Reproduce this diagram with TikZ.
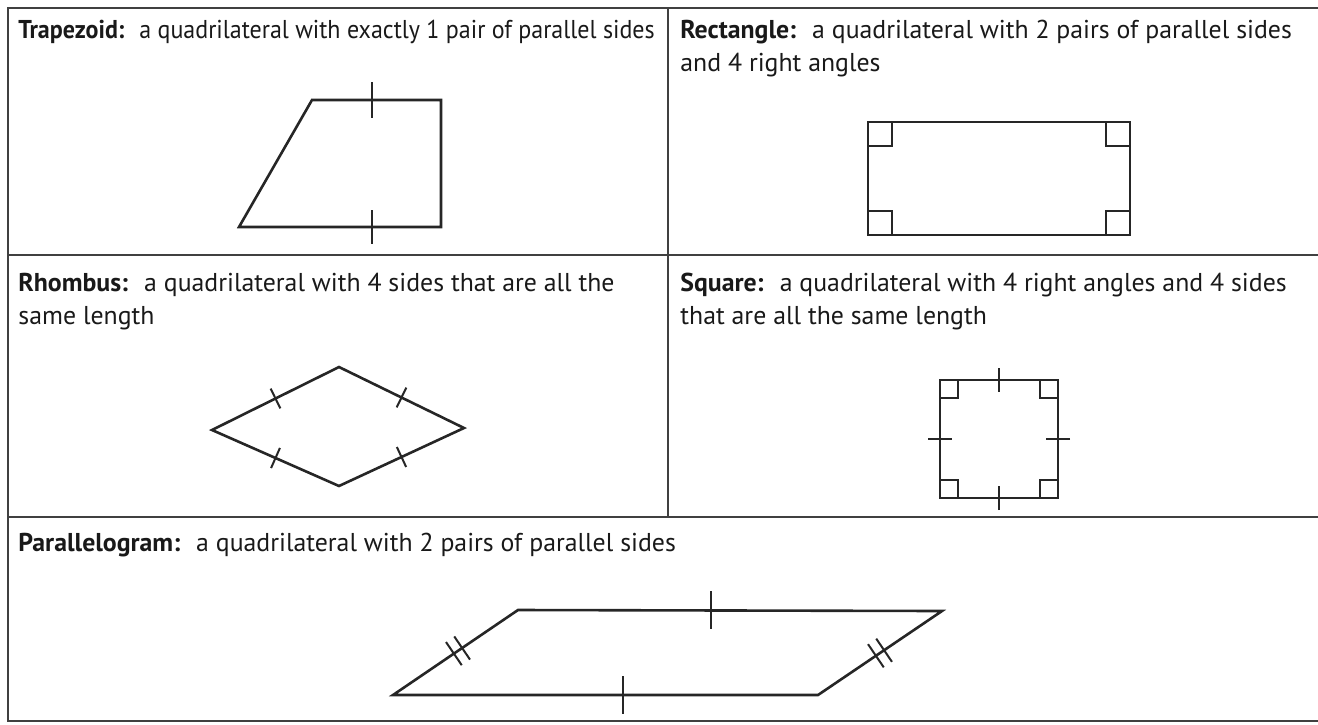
\documentclass[tikz,border=0pt]{standalone}
\usepackage{fontspec}
\setmainfont{PT Sans}
\usetikzlibrary{calc}

\begin{document}
\begin{tikzpicture}[
			x=0.5pt, y=-0.5pt,
			% Styles du tableau
			gridLine/.style={draw=black!75, line width=1pt},
			cellText/.style={anchor=base west, align=left, inner sep=0pt, text=black!90, font=\fontsize{12.9}{16.5}\selectfont},
			% Styles des figures
			shapeLine/.style={draw=black!85, line width=1.3pt, line join=miter},
			tickLine/.style={draw=black!85, line width=1pt},
			rightMark/.style={draw=black!85, line width=1.1pt},
			]

			\useasboundingbox (0,0) rectangle (1318,724);

			% tableau
			\draw[gridLine] (1318,8) -- (8,8) -- (8,721) -- (1318,721);
			\draw[gridLine] (8,255) -- (1318,255);
			\draw[gridLine] (8,517) -- (1318,517);
			\draw[gridLine] (668,8) -- (668,517);


			% textes (base west = ligne de base de la derniere ligne)
			\node[cellText] (trapText) at (18,38) {\scalebox{0.93}[1]{\textbf{Trapezoid:}~ a quadrilateral with exactly 1 pair of parallel sides}};
			\node[cellText] (rectText) at (680,71) {\textbf{Rectangle:}~ a quadrilateral with 2 pairs of parallel sides\\and 4 right angles};
			\node[cellText] (rhomText) at (18,324) {\textbf{Rhombus:}~ a quadrilateral with 4 sides that are all the\\same length};
			\node[cellText] (sqText) at (680,324) {\textbf{Square:}~ a quadrilateral with 4 right angles and 4 sides\\that are all the same length};
			\node[cellText] (paraText) at (18,551) {\textbf{Parallelogram:}~ a quadrilateral with 2 pairs of parallel sides};


			% trapeze
			\coordinate (t1) at (312,100);
			\coordinate (t2) at (441,100);
			\coordinate (t3) at (441,227);
			\coordinate (t4) at (239,227);
			\draw[shapeLine] (t1) -- (t2) -- (t3) -- (t4) -- cycle;
			\draw[tickLine] ($(t1)!0.465!(t2)+(0,-18)$) -- ($(t1)!0.465!(t2)+(0,18)$);
			\draw[tickLine] ($(t4)!0.66!(t3)+(0,-17)$) -- ($(t4)!0.66!(t3)+(0,17)$);


			% rectangle
			\coordinate (r1) at (868,122);
			\coordinate (r2) at (1130,122);
			\coordinate (r3) at (1130,235);
			\coordinate (r4) at (868,235);
			\draw[shapeLine] (r1) -- (r2) -- (r3) -- (r4) -- cycle;
			\draw[rightMark] ($(r1)+(0,24)$) -- ++(24,0) -- ++(0,-24);
			\draw[rightMark] ($(r2)+(-24,0)$) -- ++(0,24) -- ++(24,0);
			\draw[rightMark] ($(r3)+(-24,0)$) -- ++(0,-24) -- ++(24,0);
			\draw[rightMark] ($(r4)+(24,0)$) -- ++(0,-24) -- ++(-24,0);


			% losange
			\coordinate (h1) at (212,430);
			\coordinate (h2) at (339,367);
			\coordinate (h3) at (464,428);
			\coordinate (h4) at (339,486);
			\draw[shapeLine] (h1) -- (h2) -- (h3) -- (h4) -- cycle;
			\foreach \a/\b in {h1/h2, h2/h3, h3/h4, h4/h1}
				\draw[tickLine] ($(\a)!0.5!(\b)!5.5pt!90:(\b)$) -- ($(\a)!0.5!(\b)!5.5pt!-90:(\b)$);


			% carre
			\coordinate (s1) at (940,380);
			\coordinate (s2) at (1058,380);
			\coordinate (s3) at (1058,498);
			\coordinate (s4) at (940,498);
			\draw[shapeLine] (s1) -- (s2) -- (s3) -- (s4) -- cycle;
			\draw[rightMark] ($(s1)+(0,18)$) -- ++(18,0) -- ++(0,-18);
			\draw[rightMark] ($(s2)+(-18,0)$) -- ++(0,18) -- ++(18,0);
			\draw[rightMark] ($(s3)+(-18,0)$) -- ++(0,-18) -- ++(18,0);
			\draw[rightMark] ($(s4)+(18,0)$) -- ++(0,-18) -- ++(-18,0);
			\foreach \a/\b in {s1/s2, s2/s3, s3/s4, s4/s1}
				\draw[tickLine] ($(\a)!0.5!(\b)!6pt!90:(\b)$) -- ($(\a)!0.5!(\b)!6pt!-90:(\b)$);


			% parallelogramme
			\coordinate (p1) at (518,610);
			\coordinate (p2) at (942,611);
			\coordinate (p3) at (818,695);
			\coordinate (p4) at (393,695);
			\draw[shapeLine] (p1) -- (p2) -- (p3) -- (p4) -- cycle;
			\draw[tickLine] ($(p1)!0.455!(p2)+(0,-19)$) -- ($(p1)!0.455!(p2)+(0,19)$);
			\draw[tickLine] ($(p4)!0.54!(p3)+(0,-19)$) -- ($(p4)!0.54!(p3)+(0,19)$);
			\foreach \f in {0.487, 0.553}
				\draw[tickLine] ($(p4)!\f!(p1)!7pt!90:(p1)$) -- ($(p4)!\f!(p1)!7pt!-90:(p1)$);
			\foreach \f in {0.467, 0.533}
				\draw[tickLine] ($(p3)!\f!(p2)!7pt!90:(p2)$) -- ($(p3)!\f!(p2)!7pt!-90:(p2)$);

		\end{tikzpicture}
\end{document}
